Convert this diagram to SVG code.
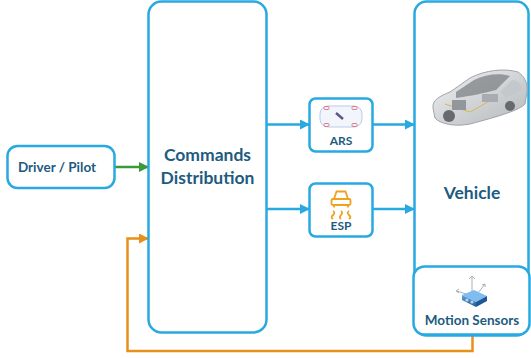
<svg xmlns="http://www.w3.org/2000/svg" width="531" height="358" viewBox="0 0 531 358">
<style>
.box{fill:#fff;stroke:#29a9e1;stroke-width:2.5}
.t{font-family:Lato,"Open Sans","Liberation Sans",sans-serif;font-weight:bold;fill:#1d5b80;text-anchor:middle}
.blue{stroke:#29a9e1;stroke-width:2.5;fill:none}
</style>
<defs>
<marker id="ab" markerWidth="10" markerHeight="10" refX="9" refY="5" orient="auto" markerUnits="userSpaceOnUse"><path d="M0,0 L10,5 L0,10 z" fill="#29a9e1"/></marker>
<marker id="ag" markerWidth="10" markerHeight="10" refX="9" refY="5" orient="auto" markerUnits="userSpaceOnUse"><path d="M0,0 L10,5 L0,10 z" fill="#3a9a3a"/></marker>
<marker id="ao" markerWidth="10" markerHeight="10" refX="9" refY="5" orient="auto" markerUnits="userSpaceOnUse"><path d="M0,0 L10,5 L0,10 z" fill="#e8901a"/></marker>
<linearGradient id="car" x1="0" y1="0" x2="1" y2="1"><stop offset="0" stop-color="#f0f1f2"/><stop offset="1" stop-color="#b4b8bc"/></linearGradient>
<linearGradient id="sens" x1="0" y1="0" x2="0" y2="1"><stop offset="0" stop-color="#5aa7e0"/><stop offset="1" stop-color="#1f5f9f"/></linearGradient>
</defs>
<g id="connectors">
<line x1="115" y1="167" x2="148" y2="167" stroke="#3a9a3a" stroke-width="2.5" marker-end="url(#ag)"/>
<polyline points="472.5,335 472.5,351 127.5,351 127.5,238.5 148,238.5" fill="none" stroke="#e8901a" stroke-width="2.5" marker-end="url(#ao)"/>
<line class="blue" x1="267" y1="124.5" x2="309" y2="124.5" marker-end="url(#ab)"/>
<line class="blue" x1="373" y1="124.5" x2="414" y2="124.5" marker-end="url(#ab)"/>
<line class="blue" x1="267" y1="209" x2="309" y2="209" marker-end="url(#ab)"/>
<line class="blue" x1="373" y1="209" x2="414" y2="209" marker-end="url(#ab)"/>
</g>
<g id="driver">
<rect class="box" x="7.5" y="146" width="107" height="42" rx="10"/>
<text class="t" x="57" y="172" font-size="13.5">Driver / Pilot</text>
</g>
<g id="commands">
<rect class="box" x="148.5" y="1.5" width="118" height="331" rx="13"/>
<text class="t" x="207.5" y="161" font-size="17.5">Commands</text>
<text class="t" x="207.5" y="184" font-size="17.5">Distribution</text>
</g>
<g id="vehicle">
<rect class="box" x="414.5" y="1.5" width="114" height="334" rx="12"/>
<text class="t" x="472" y="199" font-size="17.5">Vehicle</text>
<g id="carimg">
<path d="M433,108 C432,100 440,96 450,92 L470,78 C485,70 505,68 518,72 C524,76 528,82 527,92 L525,104 C520,110 500,116 470,124 C455,127 440,124 435,118 Z" fill="url(#car)" stroke="#a0a5aa" stroke-width="1"/>
<path d="M456,92 L474,80 C486,74 500,73 510,76 L496,90 C485,93 470,96 456,98 Z" fill="#7d8186" opacity="0.75"/>
<path d="M500,92 L512,80 C518,80 522,84 522,90 L506,98 Z" fill="#c4c8cc"/>
<circle cx="449" cy="116" r="6" fill="#66696d"/>
<circle cx="510" cy="106" r="5" fill="#66696d"/>
<path d="M445,104 L470,112 L495,98" fill="none" stroke="#d9b94a" stroke-width="1"/>
<rect x="452" y="100" width="14" height="10" fill="#93979b"/>
<rect x="482" y="94" width="16" height="8" fill="#a8acb0"/>
</g>
</g>
<g id="ars">
<rect class="box" x="309.5" y="98.5" width="63" height="53" rx="6"/>
<rect x="320" y="106" width="42" height="21" rx="8" fill="#f2f6fc" stroke="#b9cbea" stroke-width="1"/>
<rect x="324" y="106.5" width="5" height="3" rx="1" fill="none" stroke="#e57a87" stroke-width="1"/>
<rect x="352" y="106.5" width="5" height="3" rx="1" fill="none" stroke="#e57a87" stroke-width="1"/>
<rect x="324" y="123.5" width="5" height="3" rx="1" fill="none" stroke="#e57a87" stroke-width="1"/>
<rect x="352" y="123.5" width="5" height="3" rx="1" fill="none" stroke="#e57a87" stroke-width="1"/>
<line x1="336" y1="113" x2="343" y2="119" stroke="#5b5a86" stroke-width="2.5"/>
<text class="t" x="341" y="145" font-size="12">ARS</text>
</g>
<g id="esp">
<rect class="box" x="309.5" y="183.5" width="63" height="53" rx="6"/>
<g fill="none" stroke="#eea21f" stroke-width="1.8">
<path d="M334,199 L336.5,191.5 L345.5,191.5 L348,199 Z"/>
<rect x="331.5" y="199" width="19" height="6" rx="1.5"/>
<path d="M334,205 v2.5 M348,205 v2.5"/>
<path d="M333,219 c-5,-3 5,-5 0,-8 M341,219 c-4,-3 4,-5 0,-8 M349,219 c5,-3 -5,-5 0,-8"/>
</g>
<text class="t" x="341" y="230" font-size="12">ESP</text>
</g>
<g id="motion">
<rect class="box" x="413.5" y="266.5" width="116" height="68" rx="11"/>
<g stroke="#a8b0b8" stroke-width="1" fill="none">
<path d="M472,293 v-16 M469,279 l3,-3 l3,3"/>
<path d="M466,294 l-9,-3 M459,289 l-3,2 l3,2"/>
<path d="M478,293 l7,-9 M482,285 l3,-1 l0,3"/>
</g>
<path d="M462,295 L474,290 L487,296 L476,302 Z" fill="#7fbdf0"/>
<path d="M462,295 L476,302 L476,307 L462,300 Z" fill="url(#sens)"/>
<path d="M476,302 L487,296 L487,301 L476,307 Z" fill="#1e5794"/>
<circle cx="467" cy="300" r="1.6" fill="#ccd"/>
<circle cx="472" cy="302" r="1.6" fill="#ccd"/>
<text class="t" x="472" y="325" font-size="13.5">Motion Sensors</text>
</g>
</svg>
